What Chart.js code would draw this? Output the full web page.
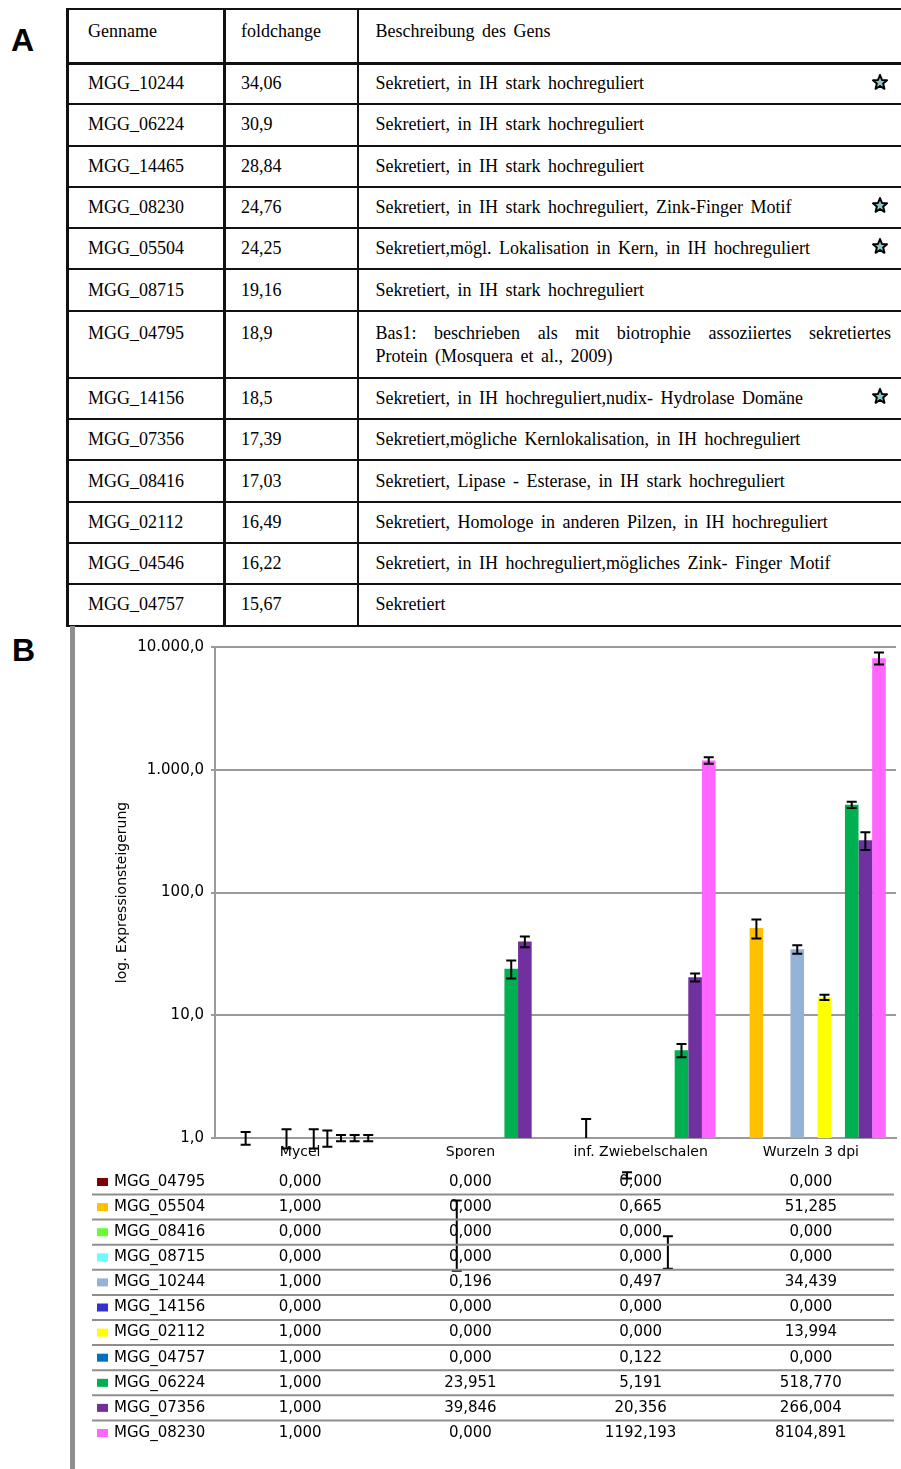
<!DOCTYPE html>
<html>
<head>
<meta charset="utf-8">
<script src="https://cdn.jsdelivr.net/npm/chart.js@4/dist/chart.umd.min.js"></script>
<style>
  body { margin: 0; background: #fff; }
  #page { position: relative; width: 901px; height: 1469px; overflow: hidden; background: #fff; }
  .panel { position: absolute; font: bold 32px "Liberation Sans", Arial, sans-serif; line-height: 1; }
  #genTable { position: absolute; left: 66px; top: 8px; width: 845px; border-collapse: collapse;
    table-layout: fixed; font: 18px "Liberation Serif", "Times New Roman", serif; color: #000; }
  #genTable td { border: 2px solid #111; padding: 0; vertical-align: middle; position: relative; white-space: nowrap; }
  #genTable tr { height: 41.3px; }
  #genTable tr.head { height: 54px; }
  #genTable tr.head td { vertical-align: top; padding-top: 11px; border-bottom-width: 3px; }
  #genTable tr.tall { height: 67px; }
  #genTable tr.tall td { vertical-align: top; padding-top: 10px; line-height: 23px; }
  #genTable td.c1 { padding-left: 19px; border-left-width: 3px; border-right-width: 3px; }
  #genTable td.c2 { padding-left: 15px; }
  #genTable td.c3 { padding-left: 17px; padding-right: 18px; white-space: normal; word-spacing: 3px; }
  #genTable .just { text-align: justify; text-align-last: justify; word-spacing: 0; }
  #genTable svg { position: absolute; right: 21px; top: 9px; }
  #grayBar { position: absolute; left: 70px; top: 626px; width: 5px; height: 843px; background: #8e8e8e; }
  #chartB { position: absolute; left: 76px; top: 628px; }
</style>
</head>
<body>
<div id="page">
  <div class="panel" style="left:11px; top:24px;">A</div>
  <div class="panel" style="left:12px; top:634px;">B</div>
  <table id="genTable">
    <colgroup><col style="width:157px"><col style="width:133px"><col></colgroup>
    <tbody id="genBody"></tbody>
  </table>
  <div id="grayBar"></div>
  <canvas id="chartB" width="825" height="841"></canvas>
</div>
<script>
// table A
const tableGenes = ['MGG_10244', 'MGG_06224', 'MGG_14465', 'MGG_08230', 'MGG_05504', 'MGG_08715', 'MGG_04795',
  'MGG_14156', 'MGG_07356', 'MGG_08416', 'MGG_02112', 'MGG_04546', 'MGG_04757'];
const foldchanges = ['34,06', '30,9', '28,84', '24,76', '24,25', '19,16', '18,9', '18,5', '17,39', '17,03', '16,49', '16,22', '15,67'];
const descriptions = [
  'Sekretiert, in IH stark hochreguliert',
  'Sekretiert, in IH stark hochreguliert',
  'Sekretiert, in IH stark hochreguliert',
  'Sekretiert, in IH stark hochreguliert, Zink-Finger Motif',
  'Sekretiert,mögl. Lokalisation in Kern, in IH hochreguliert',
  'Sekretiert, in IH stark hochreguliert',
  'Bas1: beschrieben als mit biotrophie assoziiertes sekretiertes\nProtein (Mosquera et al., 2009)',
  'Sekretiert, in IH hochreguliert,nudix- Hydrolase Domäne',
  'Sekretiert,mögliche Kernlokalisation, in IH hochreguliert',
  'Sekretiert, Lipase - Esterase, in IH stark hochreguliert',
  'Sekretiert, Homologe in anderen Pilzen, in IH hochreguliert',
  'Sekretiert, in IH hochreguliert,mögliches Zink- Finger Motif',
  'Sekretiert'
];
const starred = ['MGG_10244', 'MGG_08230', 'MGG_05504', 'MGG_14156'];

// chart B
const categories = ['Mycel', 'Sporen', 'inf. Zwiebelschalen', 'Wurzeln 3 dpi'];
const genes = ['MGG_04795', 'MGG_05504', 'MGG_08416', 'MGG_08715', 'MGG_10244', 'MGG_14156',
  'MGG_02112', 'MGG_04757', 'MGG_06224', 'MGG_07356', 'MGG_08230'];
const geneColors = ['#7f0000', '#ffc000', '#66ff33', '#66ffff', '#95b3d7', '#3333cc',
  '#ffff00', '#0070c0', '#00b050', '#7030a0', '#ff66ff'];
const mycel   = [0, 1, 0, 0, 1, 0, 1, 1, 1, 1, 1];
const sporen  = [0, 0, 0, 0, 0.196, 0, 0, 0, 23.951, 39.846, 0];
const zwiebel = [0, 0.665, 0, 0, 0.497, 0, 0, 0.122, 5.191, 20.356, 1192.193];
const wurzeln = [0, 51.285, 0, 0, 34.439, 0, 13.994, 0, 518.770, 266.004, 8104.891];
const mycelErr   = [0, 0.12, 0, 0, 0.18, 0, 0.18, 0.15, 0.06, 0.06, 0.06];
const sporenErr  = [0, 0, 0, 0, 0.113, 0, 0, 0, 4, 4, 0];
const zwiebelErr = [0, 0.76, 0, 0, 0.03, 0, 0, 0.036, 0.65, 1.5, 75];
const wurzelnErr = [0, 9, 0, 0, 2.8, 0, 0.7, 0, 30, 44, 900];
const yTicks = [1, 10, 100, 1000, 10000];
const yTickLabels = ['1,0', '10,0', '100,0', '1.000,0', '10.000,0'];

const starSvg = '<svg width="16" height="16" viewBox="0 0 16 16"><polygon points="8,1 10,6 15,6.3 11.2,9.6 12.4,14.8 8,12 3.6,14.8 4.8,9.6 1,6.3 6,6" fill="#8cc8c8" stroke="#000" stroke-width="2" stroke-linejoin="round"/></svg>';

const body = document.getElementById('genBody');
body.innerHTML = '<tr class="head"><td class="c1">Genname</td><td class="c2">foldchange</td><td class="c3">Beschreibung des Gens</td></tr>' +
  tableGenes.map((g, i) => {
    const parts = descriptions[i].split('\n');
    const desc = parts.length > 1 ? '<div class="just">' + parts[0] + '</div><div>' + parts[1] + '</div>' : parts[0];
    return '<tr' + (parts.length > 1 ? ' class="tall"' : '') + '><td class="c1">' + g + '</td><td class="c2">' + foldchanges[i] +
      '</td><td class="c3">' + desc + (starred.includes(g) ? starSvg : '') + '</td></tr>';
  }).join('');

const fmt = v => v.toFixed(3).replace('.', ',');

const errorBars = {
  id: 'errorBars',
  afterDatasetsDraw(chart) {
    const {ctx, chartArea} = chart;
    const y = chart.scales.y;
    ctx.save();
    ctx.strokeStyle = '#000';
    ctx.lineWidth = 2;
    chart.data.datasets.forEach((ds, i) => {
      chart.getDatasetMeta(i).data.forEach((bar, j) => {
        const v = ds.data[j], e = ds.err[j];
        if (!e) return;
        const top = y.getPixelForValue(v + e);
        const hasLow = v - e > 0;
        const low = hasLow ? y.getPixelForValue(v - e) : Math.min(y.getPixelForValue(v), chartArea.bottom);
        ctx.beginPath();
        ctx.moveTo(bar.x, top); ctx.lineTo(bar.x, low);
        ctx.moveTo(bar.x - 5, top); ctx.lineTo(bar.x + 5, top);
        if (hasLow) { ctx.moveTo(bar.x - 5, low); ctx.lineTo(bar.x + 5, low); }
        ctx.stroke();
      });
    });
    ctx.restore();
  }
};

const dataTable = {
  id: 'dataTable',
  afterDraw(chart) {
    const {ctx, chartArea} = chart;
    const x = chart.scales.x;
    ctx.save();
    ctx.font = '15px "DejaVu Sans"';
    ctx.textBaseline = 'middle';
    genes.forEach((g, r) => {
      const yy = chartArea.bottom + 44 + r * 25.1;
      ctx.fillStyle = geneColors[r];
      ctx.fillRect(21, yy - 4, 11, 8);
      ctx.fillStyle = '#000';
      ctx.textAlign = 'left';
      ctx.fillText(g, 38, yy);
      ctx.textAlign = 'center';
      chart.data.datasets[r].data.forEach((v, c) => ctx.fillText(fmt(v), x.getPixelForValue(c), yy));
      if (r < genes.length - 1) {
        ctx.strokeStyle = '#8e8e8e';
        ctx.lineWidth = 2;
        ctx.beginPath();
        ctx.moveTo(16, yy + 12.5); ctx.lineTo(818, yy + 12.5);
        ctx.stroke();
      }
    });
    ctx.restore();
  }
};

new Chart(document.getElementById('chartB'), {
  type: 'bar',
  data: {
    labels: categories,
    datasets: genes.map((g, i) => ({
      label: g,
      data: [mycel[i], sporen[i], zwiebel[i], wurzeln[i]],
      err: [mycelErr[i], sporenErr[i], zwiebelErr[i], wurzelnErr[i]],
      backgroundColor: geneColors[i],
      categoryPercentage: 0.88, barPercentage: 1.0, clip: 0
    }))
  },
  options: {
    responsive: false,
    animation: false,
    devicePixelRatio: 1,
    layout: { padding: { left: 0, top: 19, right: 5, bottom: 301 } },
    plugins: { legend: { display: false }, tooltip: { enabled: false } },
    scales: {
      x: {
        grid: { display: false, drawTicks: false },
        border: { color: '#9a9a9a', width: 2 },
        ticks: { color: '#000', font: { family: 'DejaVu Sans', size: 14 }, padding: 6, maxRotation: 0, autoSkip: false },
        afterFit: s => { s.height = 30; }
      },
      y: {
        type: 'logarithmic', min: 1, max: 10000,
        afterBuildTicks: s => { s.ticks = yTicks.map(v => ({ value: v })); },
        ticks: { callback: (v, i) => yTickLabels[i], color: '#000', font: { family: 'DejaVu Sans', size: 15 }, padding: 7 },
        grid: { color: '#9a9a9a', lineWidth: 2, tickLength: 4 },
        border: { color: '#9a9a9a', width: 2 },
        title: { display: true, text: 'log. Expressionsteigerung', color: '#000',
          font: { family: 'DejaVu Sans', size: 14 }, padding: { top: 38, bottom: 0 } },
        afterFit: s => { s.width = 139; }
      }
    }
  },
  plugins: [errorBars, dataTable]
});
</script>
</body>
</html>
